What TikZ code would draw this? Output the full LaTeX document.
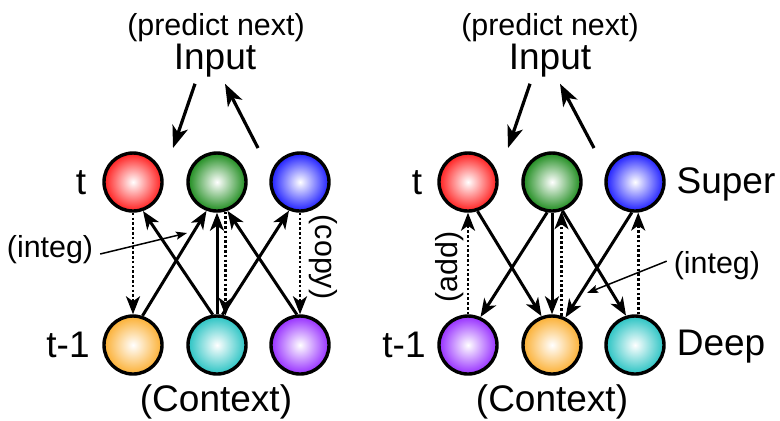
\documentclass[tikz,border=0pt]{standalone}
\usepackage{fontspec}
\setmainfont{Liberation Sans}
\usetikzlibrary{arrows.meta}

\begin{document}
\begin{tikzpicture}[x=0.5pt,y=-0.5pt,
  ballnode/.style={circle,minimum size=29pt,inner sep=0pt,draw=black,line width=1.7pt,
    shading=radial,inner color=white,outer color=#1},
  bigtxt/.style={font=\fontsize{18.5}{21}\selectfont,anchor=base},
  smalltxt/.style={font=\fontsize{15.2}{17}\selectfont},
  conn/.style={line width=1.5pt,-{Stealth[length=9pt,width=7pt,inset=2.5pt]}},
  copyconn/.style={line width=1.3pt,dash pattern=on 1.3pt off 1.1pt,-{Stealth[length=9pt,width=7pt,inset=2.5pt]}},
  inarrow/.style={line width=1.6pt,-{Stealth[length=11pt,width=8pt,inset=3pt]}},
  thinarrow/.style={line width=0.75pt,-{Stealth[length=5.5pt,width=4pt,inset=1pt]}}]
\useasboundingbox (0,0) rectangle (780,420);
\definecolor{ballred}{HTML}{FF1E1E}
\definecolor{ballgreen}{HTML}{1E8C1E}
\definecolor{ballblue}{HTML}{1E1EFF}
\definecolor{ballorange}{HTML}{FBAF32}
\definecolor{ballcyan}{HTML}{28C3C3}
\definecolor{ballpurple}{HTML}{962DFF}
% left network
\foreach \crlr/\nm/\pos in {ballred/lr/133,ballgreen/lg/217,ballblue/lb/300}
  {\node[ballnode=\crlr] (\nm) at (\pos,182) {};}
\foreach \crlr/\nm/\pos in {ballorange/lo/133,ballcyan/lc/217,ballpurple/lp/300}
  {\node[ballnode=\crlr] (\nm) at (\pos,345) {};}
\node[smalltxt,anchor=base] (prl) at (216,35) {(predict next)};
\node[bigtxt] (inl) at (215,69) {Input};
\node[bigtxt] (tl) at (81,194) {t};
\node[bigtxt] (tml) at (68,357) {t-1};
\node[bigtxt] (cxl) at (216,411) {(Context)};
\node[smalltxt] (intl) at (50,250) {(integ)};
\node[smalltxt,rotate=-90] (cpl) at (323,257) {(copy)};
\coordinate (ldn) at (173,148);
\coordinate (lup) at (258,148);
\coordinate (lint) at (187,233);
\draw[inarrow] ([xshift=-10pt]inl.south) -- (ldn);
\draw[inarrow] (lup) -- ([xshift=5pt]inl.south);
\draw[copyconn] (lr.south) -- (lo.north);
\draw[copyconn] (lg.-74) -- (lc.74);
\draw[copyconn] (lb.south) -- (lp.north);
\draw[conn] (lo.72) -- (lg.-110);
\draw[conn] (lc.98) -- (lr.-71);
\draw[conn] (lc.north) -- (lg.south);
\draw[conn] (lc.80) -- (lb.-111);
\draw[conn] (lp.96) -- (lg.-70);
\draw[thinarrow] ([yshift=-2pt]intl.east) -- (lint);
% right network
\foreach \crlr/\nm/\pos in {ballred/rr/468,ballgreen/rg/552,ballblue/rb/635}
  {\node[ballnode=\crlr] (\nm) at (\pos,182) {};}
\foreach \crlr/\nm/\pos in {ballpurple/rp/468,ballorange/ro/552,ballcyan/rc/635}
  {\node[ballnode=\crlr] (\nm) at (\pos,345) {};}
\node[smalltxt,anchor=base] (prr) at (550,35) {(predict next)};
\node[bigtxt] (inr) at (550,69) {Input};
\node[bigtxt] (tr) at (417,194) {t};
\node[bigtxt] (tmr) at (404,357) {t-1};
\node[bigtxt] (sup) at (726,193) {Super};
\node[bigtxt] (dep) at (721,355) {Deep};
\node[bigtxt] (cxr) at (552,411) {(Context)};
\node[smalltxt,rotate=90] (add) at (450,267) {(add)};
\coordinate (rdn) at (508,148);
\coordinate (rup) at (594,148);
\coordinate (rint) at (587,293);
\draw[inarrow] ([xshift=-10pt]inr.south) -- (rdn);
\draw[inarrow] (rup) -- ([xshift=5pt]inr.south);
\draw[copyconn] (rp.north) -- (rr.south);
\draw[copyconn] (ro.72) -- (rg.-72);
\draw[copyconn] (rc.84) -- (rb.-84);
\draw[conn] (rr.-72) -- (ro.110);
\draw[conn] (rg.-99) -- (rp.66);
\draw[conn] (rg.south) -- (ro.north);
\draw[conn] (rg.-70) -- (rc.107);
\draw[conn] (rb.-96) -- (ro.64);
\node[smalltxt,anchor=base east] (intr) at (767,273) {(integ)};
\draw[thinarrow] ([yshift=2pt]intr.west) -- (rint);
\end{tikzpicture}
\end{document}
